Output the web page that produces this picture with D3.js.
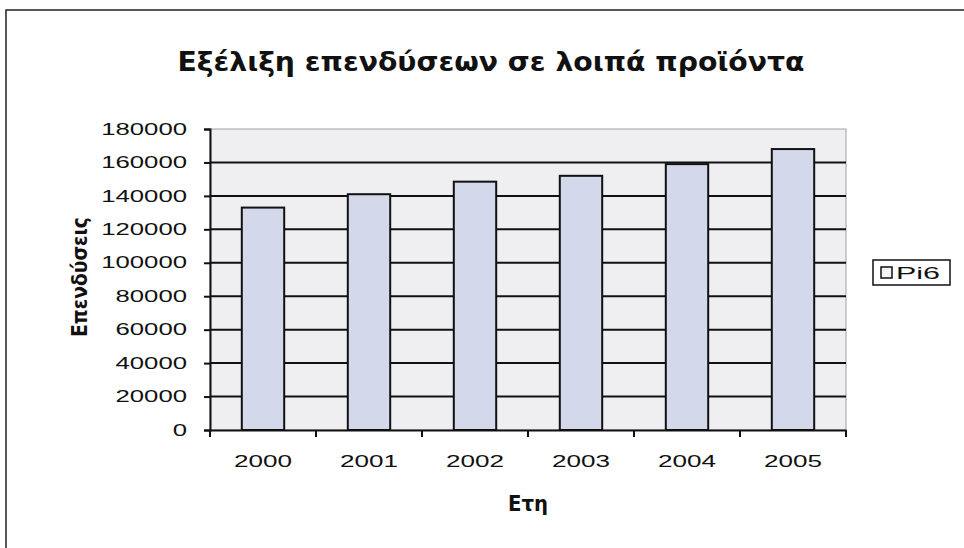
<!DOCTYPE html>
<html>
<head>
<meta charset="utf-8">
<script src="https://cdn.jsdelivr.net/npm/d3@7"></script>
<style>
  body { margin: 0; background: #fff; }
  svg { display: block; }
  text { font-family: "Liberation Sans", Arial, sans-serif; fill: #111; }
  .cond { font-family: "Liberation Sans Narrow", "DejaVu Sans", sans-serif; font-stretch: condensed; font-weight: bold; }
</style>
</head>
<body>
<div id="chart"></div>
<script>
// data
const years = ["2000", "2001", "2002", "2003", "2004", "2005"];
const investments = [133000, 141000, 148500, 152000, 159000, 168000];
const yTicks = [0, 20000, 40000, 60000, 80000, 100000, 120000, 140000, 160000, 180000];
const seriesName = "Pi6";
const title = "Εξέλιξη επενδύσεων σε λοιπά προϊόντα";
const yTitle = "Επενδύσεις";
const xTitle = "Ετη";

const width = 964, height = 548;
const plot = { left: 210, right: 846, top: 129, bottom: 430 };

const svg = d3.select("#chart").append("svg")
    .attr("width", width)
    .attr("height", height);

// outer chart border (only top and left visible in the crop)
svg.append("path")
    .attr("d", `M6,${height} L6,10 L${width},10`)
    .attr("fill", "none")
    .attr("stroke", "#222")
    .attr("stroke-width", 1.5);

const x = d3.scaleBand()
    .domain(years)
    .range([plot.left, plot.right])
    .paddingInner(0.6)
    .paddingOuter(0.3);

const y = d3.scaleLinear()
    .domain([0, 180000])
    .range([plot.bottom, plot.top]);

// plot area background
svg.append("rect")
    .attr("x", plot.left)
    .attr("y", plot.top)
    .attr("width", plot.right - plot.left)
    .attr("height", plot.bottom - plot.top)
    .attr("fill", "#efeff2")
    .attr("stroke", "#a0a0a0")
    .attr("stroke-width", 1);

// gridlines
svg.append("g")
    .selectAll("line")
    .data(yTicks.filter(d => d > 0 && d < 180000))
    .enter()
    .append("line")
    .attr("x1", plot.left)
    .attr("x2", plot.right)
    .attr("y1", d => y(d))
    .attr("y2", d => y(d))
    .attr("stroke", "#111")
    .attr("stroke-width", 2);

// bars
svg.append("g")
    .selectAll("rect")
    .data(investments)
    .enter()
    .append("rect")
    .attr("x", (d, i) => x(years[i]))
    .attr("y", d => y(d))
    .attr("width", x.bandwidth())
    .attr("height", d => y(0) - y(d))
    .attr("fill", "#d4d8eb")
    .attr("stroke", "#111")
    .attr("stroke-width", 2);

// y axis
const yAxis = svg.append("g")
    .attr("transform", `translate(${plot.left},0)`)
    .call(d3.axisLeft(y).tickValues(yTicks).tickSize(6).tickPadding(17).tickFormat(d3.format("d")));
yAxis.select(".domain").attr("stroke", "#111").attr("stroke-width", 2);
yAxis.selectAll(".tick line").attr("stroke", "#111").attr("stroke-width", 2);
yAxis.selectAll(".tick text")
    .style("font-size", "16px")
    .attr("fill", "#111")
    .attr("textLength", d => String(d).length * 14.3)
    .attr("lengthAdjust", "spacingAndGlyphs");

// x axis: ticks sit on category boundaries
const xAxis = svg.append("g")
    .attr("transform", `translate(0,${plot.bottom})`)
    .call(d3.axisBottom(x).tickSize(0).tickPadding(26));
xAxis.select(".domain").attr("stroke", "#111").attr("stroke-width", 2);
xAxis.selectAll(".tick text")
    .style("font-size", "16px")
    .attr("fill", "#111")
    .attr("textLength", 58)
    .attr("lengthAdjust", "spacingAndGlyphs");

const step = x.step();
const bounds = d3.range(years.length + 1).map(i => plot.left + i * step);
xAxis.selectAll(".bound")
    .data(bounds)
    .enter()
    .append("line")
    .attr("class", "bound")
    .attr("x1", d => d)
    .attr("x2", d => d)
    .attr("y1", 0)
    .attr("y2", 7)
    .attr("stroke", "#111")
    .attr("stroke-width", 2);

// titles - big glyphs squeezed into the measured width to get the narrow look
svg.append("text")
    .attr("class", "cond")
    .attr("x", 491)
    .attr("y", 71)
    .attr("text-anchor", "middle")
    .attr("textLength", 627)
    .attr("lengthAdjust", "spacingAndGlyphs")
    .style("font-size", "27px")
    .text(title);

svg.append("text")
    .attr("class", "cond")
    .attr("transform", "translate(87,277) rotate(-90)")
    .attr("text-anchor", "middle")
    .attr("textLength", 120)
    .attr("lengthAdjust", "spacingAndGlyphs")
    .style("font-size", "22px")
    .text(yTitle);

svg.append("text")
    .attr("class", "cond")
    .attr("x", (plot.left + plot.right) / 2)
    .attr("y", 511)
    .attr("text-anchor", "middle")
    .attr("textLength", 40)
    .attr("lengthAdjust", "spacingAndGlyphs")
    .style("font-size", "21px")
    .text(xTitle);

// legend
const legend = svg.append("g").attr("transform", "translate(873,260)");
legend.append("rect")
    .attr("width", 77)
    .attr("height", 25)
    .attr("fill", "#fff")
    .attr("stroke", "#111")
    .attr("stroke-width", 1.5);
legend.append("rect")
    .attr("x", 8)
    .attr("y", 7)
    .attr("width", 11)
    .attr("height", 11)
    .attr("fill", "#f4f4f8")
    .attr("stroke", "#111")
    .attr("stroke-width", 1.5);
legend.append("text")
    .attr("x", 23)
    .attr("y", 19)
    .attr("textLength", 44)
    .attr("lengthAdjust", "spacingAndGlyphs")
    .style("font-size", "17px")
    .text(seriesName);
</script>
</body>
</html>
